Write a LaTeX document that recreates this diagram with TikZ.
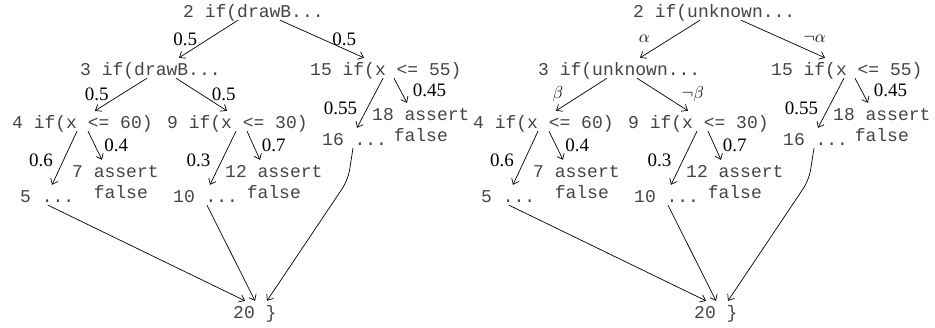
\documentclass[tikz,border=0pt]{standalone}
\usepackage{fontspec}
\setmainfont{Liberation Serif}
\setmonofont{Liberation Mono}
\usepackage{xcolor}
\usepackage{tikz}
\usetikzlibrary{arrows.meta,positioning}
\definecolor{code70}{HTML}{444444}
\tikzset{
  codenode/.style={
    anchor=base west, inner sep=0pt, text=code70,
    font=\fontsize{18}{21}\selectfont\ttfamily,
    text height=17pt, text depth=3pt
  },
  problabel/.style={
    font=\fontsize{19}{21}\selectfont, inner sep=0pt
  },
  flowarrow/.style={
    -{Straight Barb[length=5pt,width=8pt]}, line width=0.7pt
  },
}

\begin{document}
\begin{tikzpicture}[x=1pt, y=-1pt]
  \useasboundingbox (0,0) rectangle (935,327);

  % Left tree: probabilities
  \node[codenode] (l2) at (183,17) {2 if(drawB...};
  \node[codenode] (l3) at (80,75) {3 if(drawB...};
  \node[codenode] (l15) at (310,75) {15 if(x <= 55)};
  \node[codenode] (l4) at (12,128) {4 if(x <= 60)};
  \node[codenode] (l9) at (167,128) {9 if(x <= 30)};
  \node[codenode] (l18) at (372,120) {\vtop{\hbox{18 assert}\hbox{\hphantom{00}false}}};
  \node[codenode] (l16) at (322,145) {16 ...};
  \node[codenode] (l7) at (72,177) {\vtop{\hbox{7 assert}\hbox{\hphantom{00}false}}};
  \node[codenode] (l12) at (225,177) {\vtop{\hbox{12 assert}\hbox{\hphantom{00}false}}};
  \node[codenode] (l5) at (20,202) {5 ...};
  \node[codenode] (l10) at (173,202) {10 ...};
  \node[codenode] (l20) at (233,318) {20 \}};
  \coordinate (lbend) at (348,180);

  \draw[flowarrow] ([xshift=55pt]l2.south west) -- node[problabel, left=11pt] {0.5} ([xshift=99pt]l3.north west);
  \draw[flowarrow] ([xshift=97pt]l2.south west) -- node[problabel, right=10pt] {0.5} ([xshift=54pt]l15.north west);
  \draw[flowarrow] ([xshift=67pt]l3.south west) -- node[problabel, left=12pt] {0.5} ([xshift=83pt]l4.north west);
  \draw[flowarrow] ([xshift=96pt]l3.south west) -- node[problabel, right=10pt] {0.5} ([xshift=60pt]l9.north west);
  \draw[flowarrow] ([xshift=73pt]l15.south west) -- node[problabel, pos=0.6, left=10pt] {0.55} ([xshift=35pt]l16.north west);
  \draw[flowarrow] ([xshift=84pt]l15.south west) -- node[problabel, right=12pt] {0.45} ([xshift=35pt]l18.north west);
  \draw[flowarrow] ([xshift=65pt]l4.south west) -- node[problabel, pos=0.55, left=10pt] {0.6} ([xshift=32pt]l5.north west);
  \draw[flowarrow] ([xshift=76pt]l4.south west) -- node[problabel, right=9pt] {0.4} ([xshift=30pt]l7.north west);
  \draw[flowarrow] ([xshift=69pt]l9.south west) -- node[problabel, pos=0.55, left=11pt] {0.3} ([xshift=37pt]l10.north west);
  \draw[flowarrow] ([xshift=80pt]l9.south west) -- node[problabel, right=8pt] {0.7} ([xshift=35pt]l12.north west);
  \draw[flowarrow] ([xshift=28pt]l5.south west) -- ([xshift=12pt]l20.north west);
  \draw[flowarrow] ([xshift=34pt]l10.south west) -- ([xshift=22pt]l20.north west);
  \draw[flowarrow, rounded corners=10pt] ([xshift=31pt]l16.south west) -- (lbend) -- ([xshift=34pt]l20.north west);

  % Right tree: unknown branches
  \begin{scope}[xshift=461pt]
    \node[codenode] (r2) at (172,17) {2 if(unknown...};
    \node[codenode] (r3) at (77,75) {3 if(unknown...};
    \node[codenode] (r15) at (310,75) {15 if(x <= 55)};
    \node[codenode] (r4) at (12,128) {4 if(x <= 60)};
    \node[codenode] (r9) at (167,128) {9 if(x <= 30)};
    \node[codenode] (r18) at (372,120) {\vtop{\hbox{18 assert}\hbox{\hphantom{00}false}}};
    \node[codenode] (r16) at (322,145) {16 ...};
    \node[codenode] (r7) at (72,177) {\vtop{\hbox{7 assert}\hbox{\hphantom{00}false}}};
    \node[codenode] (r12) at (225,177) {\vtop{\hbox{12 assert}\hbox{\hphantom{00}false}}};
    \node[codenode] (r5) at (20,202) {5 ...};
    \node[codenode] (r10) at (173,202) {10 ...};
    \node[codenode] (r20) at (233,318) {20 \}};
    \coordinate (rbend) at (348,180);

    \draw[flowarrow] ([xshift=67pt]r2.south west) -- node[problabel, left=20pt] {$\alpha$} ([xshift=102pt]r3.north west);
    \draw[flowarrow] ([xshift=108pt]r2.south west) -- node[problabel, right=20pt] {$\neg\alpha$} ([xshift=54pt]r15.north west);
    \draw[flowarrow] ([xshift=69pt]r3.south west) -- node[problabel, left=18pt] {$\beta$} ([xshift=83pt]r4.north west);
    \draw[flowarrow] ([xshift=99pt]r3.south west) -- node[problabel, right=19pt] {$\neg\beta$} ([xshift=60pt]r9.north west);
    \draw[flowarrow] ([xshift=73pt]r15.south west) -- node[problabel, pos=0.6, left=10pt] {0.55} ([xshift=35pt]r16.north west);
    \draw[flowarrow] ([xshift=84pt]r15.south west) -- node[problabel, right=12pt] {0.45} ([xshift=35pt]r18.north west);
    \draw[flowarrow] ([xshift=65pt]r4.south west) -- node[problabel, pos=0.55, left=10pt] {0.6} ([xshift=32pt]r5.north west);
    \draw[flowarrow] ([xshift=76pt]r4.south west) -- node[problabel, right=9pt] {0.4} ([xshift=30pt]r7.north west);
    \draw[flowarrow] ([xshift=69pt]r9.south west) -- node[problabel, pos=0.55, left=11pt] {0.3} ([xshift=37pt]r10.north west);
    \draw[flowarrow] ([xshift=80pt]r9.south west) -- node[problabel, right=8pt] {0.7} ([xshift=35pt]r12.north west);
    \draw[flowarrow] ([xshift=28pt]r5.south west) -- ([xshift=12pt]r20.north west);
    \draw[flowarrow] ([xshift=34pt]r10.south west) -- ([xshift=22pt]r20.north west);
    \draw[flowarrow, rounded corners=10pt] ([xshift=31pt]r16.south west) -- (rbend) -- ([xshift=34pt]r20.north west);
  \end{scope}
\end{tikzpicture}
\end{document}
